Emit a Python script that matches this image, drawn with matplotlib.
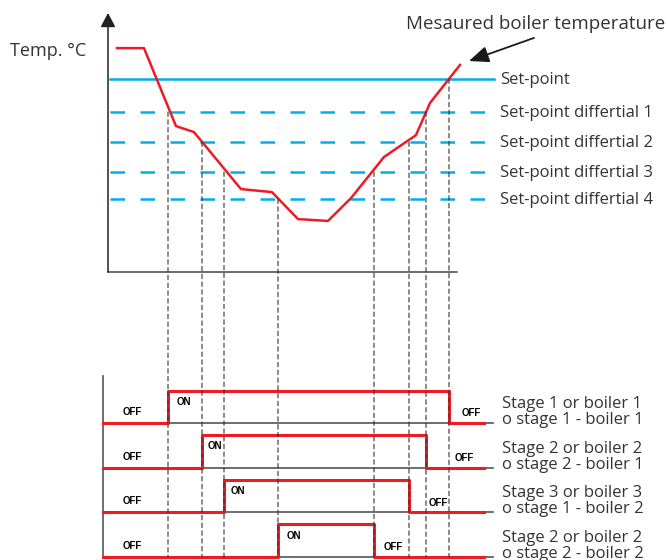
import numpy as np
import matplotlib.pyplot as plt
from matplotlib.patches import ConnectionPatch

# curva de temperatura medida (tiempo, temperatura)
tiempo = np.array([9, 36, 68, 86, 133, 164, 190, 220, 243, 276, 308, 322, 352])
temperatura = np.array([80.3, 80.3, 54.3, 52.3, 33.3, 32.3, 23.3, 22.7, 30.3, 44.0, 51.3, 62.0, 74.7])

# niveles de consigna
set_point = 70
diferenciales = [59, 49, 39, 30]
etiquetas_niveles = ['Set-point', 'Set-point differtial 1', 'Set-point differtial 2',
                     'Set-point differtial 3', 'Set-point differtial 4']

# etapas: tiempo de encendido / apagado y nivel donde cambian
t_on = [60, 94, 116, 170]
t_off = [341, 318, 301, 266]
nivel_on = [59, 49, 39, 30]
nivel_off = [70, 59, 49, 39]
etiquetas_etapas = ['Stage 1 or boiler 1\no stage 1 - boiler 1',
                    'Stage 2 or boiler 2\no stage 2 - boiler 1',
                    'Stage 3 or boiler 3\no stage 1 - boiler 2',
                    'Stage 2 or boiler 2\no stage 2 - boiler 2']

rojo = '#ED1C24'
azul = '#00AEEF'
texto = '#333333'
W, H = 668, 560
fuente = 'Open Sans'
tam = 12


def rect(x0, x1, y0, y1):
    # pixeles -> fraccion de figura
    return [x0 / W, 1 - y1 / H, (x1 - x0) / W, (y1 - y0) / H]


fig = plt.figure(figsize=(W / 100, H / 100), dpi=100)
ax = fig.add_axes(rect(100, 500, 10, 272))
ax.set_xlim(-8, 392)
ax.set_ylim(5.67, 93)
ax.axis('off')

axb = fig.add_axes(rect(100, 500, 370, 560))
axb.set_xlim(-8, 392)
axb.set_ylim(-0.067, 4.19)
axb.axis('off')

# ejes del grafico de temperatura
ax.annotate('', xy=(0, 92), xytext=(0, 5.67),
            arrowprops=dict(arrowstyle='-|>,head_length=0.85,head_width=0.45',
                            color='#222222', lw=1.1, shrinkA=0, shrinkB=0))
ax.plot([0, 349], [5.67, 5.67], color='#444444', lw=1.1, clip_on=False)

# niveles
ax.plot([2, 386], [set_point, set_point], color=azul, lw=1.8)
for d in diferenciales:
    ax.plot([2, 386], [d, d], color=azul, lw=1.8, dashes=(5.8, 6.2))
for nivel, lab in zip([set_point] + diferenciales, etiquetas_niveles):
    ax.text(392, nivel - 1.6, lab, ha='left', va='baseline', fontsize=tam,
            family=fuente, color=texto, clip_on=False)

# temperatura medida
ax.plot(tiempo, temperatura, color=rojo, lw=1.8, clip_on=False)
ax.text(557, 86.7, 'Mesaured boiler temperature', ha='right', va='baseline',
        fontsize=tam + 1.5, family=fuente, color=texto, clip_on=False)
ax.annotate('', xy=(361, 76), xytext=(426, 83.7),
            arrowprops=dict(arrowstyle='-|>,head_length=1.2,head_width=0.5',
                            color='#1a1a1a', lw=1.3, shrinkA=0, shrinkB=0))
fig.text(10 / W, 1 - 56 / H, 'Temp. °C', ha='left', va='baseline', fontsize=tam + 1,
         family=fuente, color=texto)

# lineas verticales de conmutacion
for t, n in zip(t_on + t_off, nivel_on + nivel_off):
    con = ConnectionPatch(xyA=(t, n), coordsA=ax.transData, xyB=(t, 0), coordsB=axb.transData,
                          color='#333333', lw=0.8, linestyle=(0, (4, 3)))
    fig.add_artist(con)

# etapas
axb.plot([-5, -5], [0, 4.05], color='#555555', lw=1.2)
dx_on = [9, 6, 7, 9]
dx_off = [13, 29, 20, 10]
for i in range(4):
    base = 3 - i
    alto = base + 0.73
    axb.plot([-5, 385], [base, base], color='#555555', lw=1.2)
    axb.plot([-5, t_on[i], t_on[i], t_off[i], t_off[i], 376],
             [base, base, alto, alto, base, base], color=rojo, lw=2.2)
    axb.text(15, base + 0.25, 'OFF', fontsize=7, fontweight='bold', family='Liberation Sans',
             ha='left', va='center', color='black')
    axb.text(t_on[i] + dx_on[i], alto - 0.25, 'ON', fontsize=7, fontweight='bold',
             family='Liberation Sans', ha='left', va='center', color='black')
    axb.text(t_off[i] + dx_off[i], base + 0.22, 'OFF', fontsize=7, fontweight='bold',
             family='Liberation Sans', ha='left', va='center', color='black')
    axb.text(394, base - 0.02, etiquetas_etapas[i], ha='left', va='baseline', fontsize=tam,
             family=fuente, color=texto, linespacing=1.0, clip_on=False)

fig.savefig('out.png', dpi=100)
